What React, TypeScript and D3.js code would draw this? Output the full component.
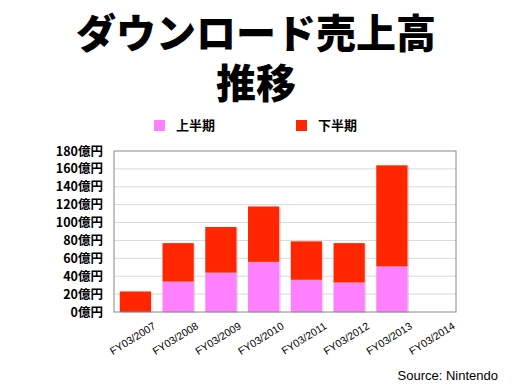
import React from "react";
import * as d3 from "d3";

const categories = ["FY03/2007", "FY03/2008", "FY03/2009", "FY03/2010", "FY03/2011", "FY03/2012", "FY03/2013", "FY03/2014"];
const firstHalf = [0, 34, 44, 56, 36, 33, 51, 0];
const secondHalf = [23, 43, 51, 62, 43, 44, 113, 0];
const yTicks = [0, 20, 40, 60, 80, 100, 120, 140, 160, 180];
const seriesNames = ["上半期", "下半期"];
const colors = ["#FF80FF", "#FF2600"];

const W = 512, H = 384;
const M = { left: 114, right: 456, top: 151, bottom: 312 };
const jp = "'Noto Sans CJK JP', 'Liberation Sans', sans-serif";
const lat = "'Liberation Sans', Arial, sans-serif";

export default function App() {
  const x = d3.scaleBand<string>().domain(categories).range([M.left, M.right]).paddingInner(0.27).paddingOuter(0.135);
  const y = d3.scaleLinear().domain([0, 180]).range([M.bottom, M.top]);
  const rows = categories.map((c, i) => ({ c, a: firstHalf[i], b: secondHalf[i] }));
  const stack = d3.stack<any>().keys(["a", "b"])(rows);

  return (
    <svg width={W} height={H} style={{ position: "absolute", left: 0, top: 0, background: "#fff" }}>
      <text textAnchor="middle" fontFamily={jp} fontWeight={900} fontSize={40}>
        <tspan x={256} y={48}>ダウンロード売上高</tspan>
        <tspan x={256} y={98}>推移</tspan>
      </text>

      {seriesNames.map((n, i) => (
        <g key={n}>
          <rect x={154 + i * 142} y={120} width={11} height={11} fill={colors[i]} />
          <text x={176 + i * 142} y={130} fontFamily={jp} fontWeight={700} fontSize={13}>{n}</text>
        </g>
      ))}

      {yTicks.map((t) => (
        <g key={t}>
          {t > 0 && t < 180 && <line x1={M.left} x2={M.right} y1={y(t)} y2={y(t)} stroke="#d9d9d9" strokeWidth={1} />}
          <text x={103} y={y(t) + 4.5} textAnchor="end" fontFamily={jp} fontWeight={700} fontSize={12.5}>{t}億円</text>
        </g>
      ))}

      {stack.map((s, si) =>
        s.map((d, i) => {
          const h = y(d[0]) - y(d[1]);
          if (h <= 0) return null;
          return (
            <g key={si + "-" + i}>
              <rect x={(x(categories[i]) as number) + 1.5} y={y(d[1]) + 1} width={x.bandwidth()} height={h} fill="#bbb" opacity={0.5} />
              <rect x={x(categories[i])} y={y(d[1])} width={x.bandwidth()} height={h} fill={colors[si]} />
            </g>
          );
        })
      )}

      <rect x={M.left} y={M.top} width={M.right - M.left} height={M.bottom - M.top} fill="none" stroke="#888" strokeWidth={1} />

      {categories.map((c) => {
        const cx = (x(c) as number) + x.bandwidth() / 2 + 21;
        return (
          <text key={c} transform={`translate(${cx},${328}) rotate(-32)`} textAnchor="end" fontFamily={lat} fontSize={10.5}>{c}</text>
        );
      })}

      <text x={498} y={380} textAnchor="end" fontFamily={lat} fontSize={13}>Source: Nintendo</text>
    </svg>
  );
}
